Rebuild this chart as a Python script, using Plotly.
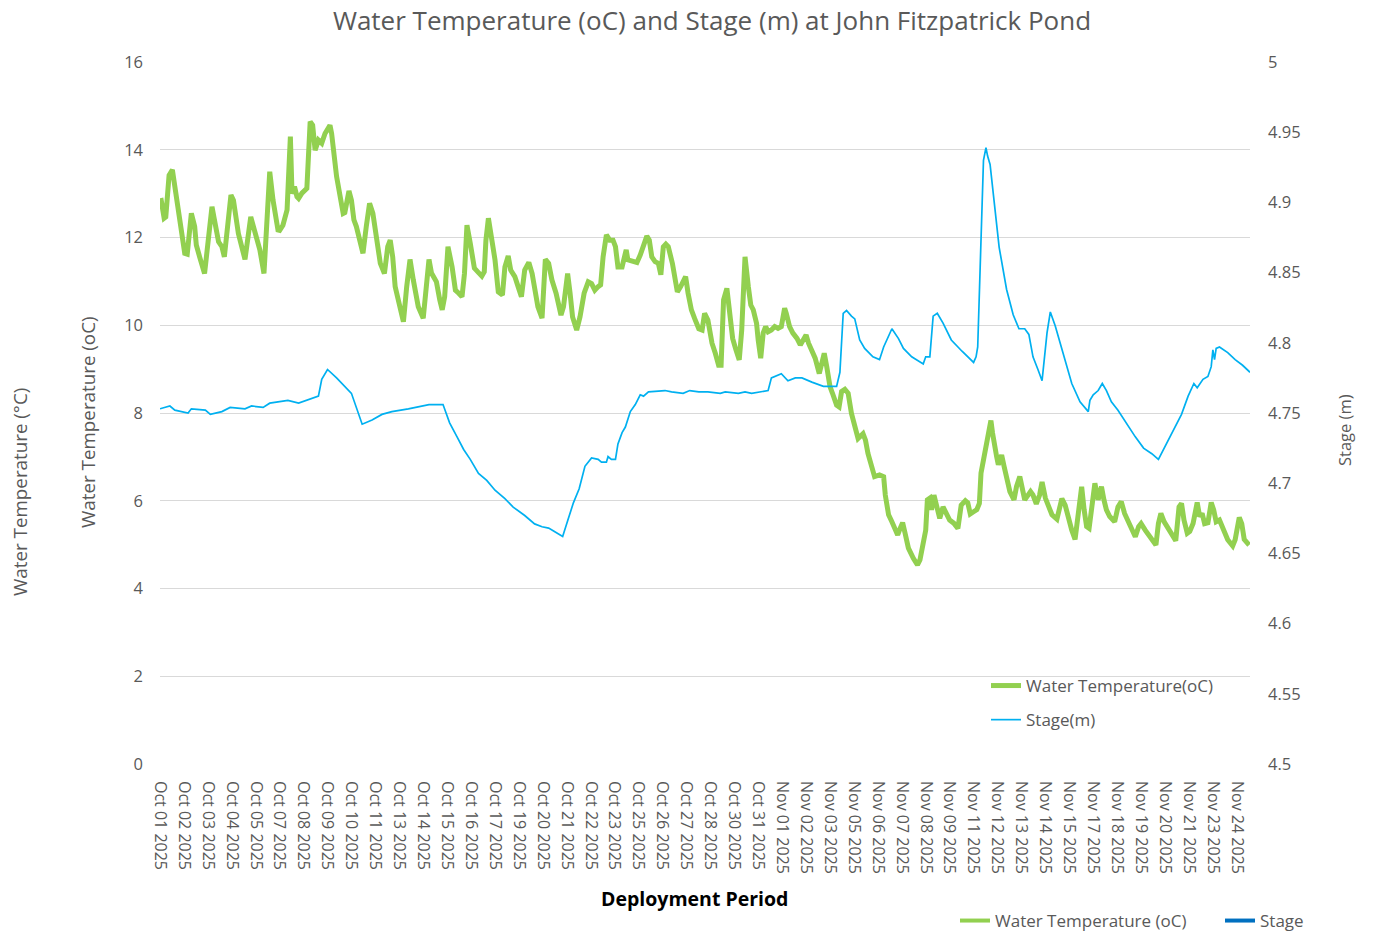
import pandas as pd
import plotly.graph_objects as go

# ---------------- data (hours since 2025-10-01 00:00) ----------------
start = pd.Timestamp("2025-10-01 00:00")

temp_hours = [1,5,7,11,15,22,30,33,38,42,44,48,54,63,67,71,75,78,86,89,95,103,110,115,121,126,133,137,143,145,149,154,158,160,163,166,168,172,178,182,185,188,192,196,200,206,208,214,218,222,224,229,232,235,238,246,250,254,258,263,267,272,276,279,282,285,289,292,295,299,303,307,313,319,323,326,329,335,339,342,345,349,354,358,362,366,369,372,376,378,381,386,390,393,395,398,402,406,410,415,418,422,425,430,434,438,442,447,451,454,458,463,467,471,475,480,483,486,489,494,497,500,505,509,514,519,523,527,531,534,537,541,545,549,552,555,560,563,565,567,572,578,582,586,590,593,596,600,604,607,610,613,616,621,624,627,631,634,637,640,644,648,653,657,660,664,669,673,677,680,683,687,691,694,698,702,705,709,713,716,719,723,725,728,731,734,737,741,745,749,753,757,759,763,767,772,776,780,783,786,790,794,799,802,805,808,812,815,820,823,826,830,834,838,842,846,852,855,858,862,866,872,877,879,883,887,891,894,897,900,903,907,913,918,921,925,928,930,933,935,938,941,945,949,953,957,962,967,971,976,979,982,986,990,993,995,998,1001,1004,1007,1009,1011,1014,1016,1020,1023,1026,1030,1035,1038,1042,1045,1048,1052,1055,1058,1062,1066,1069,1073,1077,1081,1087,1091,1093,1097,1101,1105,1109,1113,1117,1120,1123,1126,1129,1133,1137,1141,1144,1147,1151,1157,1161,1165,1169,1173,1178,1182,1186,1189,1194,1198,1202,1207,1210,1213,1217,1222,1226,1231,1235,1238,1241,1245,1248,1252,1257,1260,1263,1266,1270,1274,1277,1280,1284,1289,1294,1300,1303,1308,1311,1314,1317,1320]
temp_values = [12.90,12.44,12.47,13.42,13.54,12.70,11.64,11.62,12.55,12.25,11.83,11.56,11.18,12.70,12.32,11.90,11.79,11.56,12.97,12.85,12.09,11.50,12.47,12.09,11.72,11.18,13.50,12.85,12.17,12.16,12.28,12.63,14.30,13.00,13.16,12.93,12.89,13.01,13.12,14.64,14.56,13.99,14.22,14.15,14.37,14.56,14.37,13.39,13.01,12.55,12.57,13.06,12.85,12.40,12.25,11.64,12.25,12.78,12.55,11.94,11.41,11.18,11.79,11.94,11.56,10.88,10.58,10.42,10.08,10.88,11.50,11.03,10.42,10.16,11.11,11.50,11.19,10.99,10.58,10.35,10.65,11.79,11.33,10.80,10.73,10.65,11.18,12.28,11.87,11.56,11.30,11.20,11.12,11.22,11.94,12.44,12.02,11.49,10.76,10.69,11.33,11.58,11.26,11.11,10.88,10.65,11.26,11.43,11.18,10.88,10.42,10.16,11.50,11.41,11.03,10.73,10.50,10.23,10.42,11.18,10.73,10.19,9.89,10.19,10.73,10.99,10.95,10.80,10.88,10.92,11.56,12.06,11.94,11.94,11.79,11.33,11.33,11.56,11.72,11.49,11.45,11.43,11.60,11.79,12.03,11.94,11.56,11.45,11.41,11.15,11.79,11.85,11.79,11.41,11.11,10.76,10.88,11.03,11.11,10.73,10.35,10.15,9.92,9.89,10.27,10.12,9.59,9.36,9.09,9.09,10.58,10.84,10.19,9.70,9.44,9.21,9.89,11.56,10.88,10.46,10.35,10.04,9.66,9.25,9.82,9.97,9.85,9.89,9.97,9.93,9.97,10.39,10.27,9.97,9.82,9.70,9.55,9.66,9.78,9.59,9.40,9.25,8.90,9.13,9.36,9.06,8.60,8.45,8.18,8.14,8.49,8.54,8.45,7.99,7.69,7.42,7.53,7.38,7.08,6.81,6.55,6.59,6.55,6.13,5.68,5.52,5.37,5.22,5.37,5.50,5.26,4.92,4.69,4.54,4.65,5.03,5.33,6.02,6.06,5.79,6.13,5.90,5.60,5.86,5.71,5.56,5.49,5.37,5.90,6.00,5.95,5.70,5.75,5.80,5.94,6.63,6.93,7.27,7.54,7.83,7.54,7.23,7.00,6.82,7.04,6.78,6.47,6.21,6.02,6.32,6.55,6.25,6.02,6.13,6.21,6.13,5.93,6.13,6.43,6.06,5.83,5.68,5.58,5.86,6.05,5.90,5.56,5.33,5.12,5.64,6.32,5.79,5.41,5.37,5.79,6.40,6.02,6.32,6.02,5.79,5.64,5.52,5.86,5.98,5.71,5.56,5.33,5.18,5.41,5.48,5.33,5.22,5.11,4.99,5.48,5.71,5.52,5.37,5.22,5.09,5.86,5.94,5.56,5.26,5.30,5.48,5.96,5.64,5.71,5.48,5.50,5.96,5.79,5.52,5.56,5.33,5.11,4.97,5.11,5.62,5.48,5.12,5.07,4.99]

stage_hours = [0,12,18,34,38,55,61,75,85,103,111,125,133,155,168,184,192,196,203,214,224,232,245,257,269,281,301,326,343,351,360,368,376,386,396,406,418,428,442,454,463,471,477,488,495,501,508,515,523,531,535,541,543,547,552,555,560,564,570,576,582,586,592,612,620,634,642,653,664,679,685,701,709,717,737,741,753,761,770,778,790,804,820,824,828,832,838,842,848,854,864,872,877,882,887,895,901,911,919,925,928,933,937,942,949,959,972,980,986,989,991,994,998,1001,1003,1006,1011,1017,1026,1034,1041,1048,1053,1058,1064,1069,1075,1079,1085,1093,1105,1115,1125,1127,1131,1137,1142,1147,1153,1161,1172,1182,1192,1202,1210,1218,1228,1238,1246,1253,1257,1264,1270,1274,1276,1278,1280,1284,1294,1303,1312,1321]
stage_values = [4.753,4.755,4.752,4.750,4.753,4.752,4.749,4.751,4.754,4.753,4.755,4.754,4.757,4.759,4.757,4.760,4.762,4.774,4.781,4.775,4.769,4.764,4.742,4.745,4.749,4.751,4.753,4.756,4.756,4.743,4.733,4.724,4.717,4.707,4.702,4.695,4.689,4.683,4.677,4.671,4.669,4.668,4.666,4.662,4.675,4.686,4.696,4.712,4.718,4.717,4.715,4.715,4.719,4.717,4.717,4.728,4.736,4.740,4.751,4.756,4.763,4.762,4.765,4.766,4.765,4.764,4.766,4.765,4.765,4.764,4.765,4.764,4.765,4.764,4.766,4.775,4.778,4.773,4.775,4.775,4.772,4.769,4.769,4.779,4.821,4.823,4.819,4.817,4.802,4.796,4.790,4.788,4.797,4.804,4.810,4.803,4.796,4.790,4.787,4.785,4.790,4.790,4.819,4.821,4.814,4.802,4.794,4.789,4.786,4.790,4.797,4.854,4.930,4.939,4.933,4.927,4.902,4.868,4.838,4.820,4.810,4.810,4.806,4.790,4.781,4.773,4.807,4.822,4.812,4.795,4.771,4.758,4.751,4.759,4.763,4.766,4.771,4.766,4.758,4.752,4.742,4.733,4.725,4.721,4.717,4.726,4.738,4.749,4.762,4.771,4.768,4.774,4.776,4.783,4.795,4.788,4.796,4.797,4.793,4.788,4.784,4.779]

tick_count = 46          # one label every 29 hourly records
tick_step_hours = 29
end_hours = 1321

stage_ticks = [4.5, 4.55, 4.6, 4.65, 4.7, 4.75, 4.8, 4.85, 4.9, 4.95, 5.0]
stage_tick_labels = ["4.5", "4.55", "4.6", "4.65", "4.7", "4.75", "4.8", "4.85", "4.9", "4.95", "5"]

# ---------------- derived ----------------
temp_time = start + pd.to_timedelta(temp_hours, unit="h")
stage_time = start + pd.to_timedelta(stage_hours, unit="h")
tick_dates = pd.date_range(start, periods=tick_count, freq=f"{tick_step_hours}h")
tick_labels = [d.strftime("%b %d %Y") for d in tick_dates]
x_end = start + pd.Timedelta(hours=end_hours)

GREEN = "#92D050"
BLUE = "#00B0F0"
DARKBLUE = "#0070C0"
GREY = "#595959"
FONT = "Open Sans"

# plot area in figure pixels (page body adds an 8px offset)
PL, PR, PT, PB = 152, 1242, 54, 756
PW, PH = PR - PL, PB - PT


def px(xf):
    return (xf - PL) / PW


def py(yf):
    return (PB - yf) / PH


fig = go.Figure()
fig.add_trace(go.Scatter(
    x=temp_time, y=temp_values, mode="lines", name="Water Temperature(oC)",
    line=dict(color=GREEN, width=5), legend="legend", legendgroup="a"))
fig.add_trace(go.Scatter(
    x=stage_time, y=stage_values, mode="lines", name="Stage(m)", yaxis="y2",
    line=dict(color=BLUE, width=1.7), legend="legend", legendgroup="b"))
# outer legend entries
fig.add_trace(go.Scatter(
    x=[None], y=[None], mode="lines", name="Water Temperature (oC)",
    line=dict(color=GREEN, width=4), legend="legend2"))
fig.add_trace(go.Scatter(
    x=[None], y=[None], mode="lines", name="Stage",
    line=dict(color=DARKBLUE, width=4), legend="legend3"))

fig.update_layout(
    width=1380, height=932,
    margin=dict(l=PL, r=1380 - PR, t=PT, b=932 - PB, autoexpand=False),
    paper_bgcolor="white", plot_bgcolor="white",
    font=dict(family=FONT, color=GREY, size=16),
    title=dict(text="Water Temperature (oC) and Stage (m) at John Fitzpatrick Pond",
               x=704 / 1380, xanchor="center", xref="container",
               y=1 - 13 / 932, yanchor="middle", yref="container",
               font=dict(size=26, color=GREY, family=FONT)),
    xaxis=dict(type="date", range=[start, x_end], tickvals=tick_dates, ticktext=tick_labels,
               tickangle=90, showgrid=False, showline=False, zeroline=False, ticks="",
               tickfont=dict(size=16, color=GREY), ticklabelstandoff=16, automargin=False),
    yaxis=dict(range=[0, 16], dtick=2, showgrid=True, gridcolor="#D9D9D9", gridwidth=1,
               zeroline=False, showline=False, ticks="", tickfont=dict(size=16.5, color=GREY),
               ticklabelstandoff=16, automargin=False),
    yaxis2=dict(range=[4.5, 5.0], overlaying="y", side="right", tickvals=stage_ticks,
                ticktext=stage_tick_labels, showgrid=False, zeroline=False, showline=False,
                ticks="", tickfont=dict(size=16.5, color=GREY), ticklabelstandoff=17,
                automargin=False),
    legend=dict(x=px(978), xanchor="left", y=py(660), yanchor="top",
                bgcolor="rgba(0,0,0,0)", font=dict(size=17, color=GREY),
                traceorder="grouped", tracegroupgap=9),
    legend2=dict(orientation="h", x=px(947), xanchor="left", y=py(895), yanchor="top",
                 bgcolor="rgba(0,0,0,0)", font=dict(size=17, color=GREY)),
    legend3=dict(orientation="h", x=px(1212), xanchor="left", y=py(895), yanchor="top",
                 bgcolor="rgba(0,0,0,0)", font=dict(size=17, color=GREY)),
    showlegend=True,
)

fig.add_annotation(text="Water Temperature (oC)", xref="paper", yref="paper",
                   x=px(80), y=py(414), textangle=-90, showarrow=False,
                   font=dict(size=18.8, color=GREY, family=FONT), xanchor="center", yanchor="middle")
fig.add_annotation(text="Water Temperature (°C)", xref="paper", yref="paper",
                   x=px(12), y=py(484), textangle=-90, showarrow=False,
                   font=dict(size=18.8, color=GREY, family=FONT), xanchor="center", yanchor="middle")
fig.add_annotation(text="Stage (m)", xref="paper", yref="paper",
                   x=px(1336), y=py(422), textangle=-90, showarrow=False,
                   font=dict(size=16.5, color=GREY, family=FONT),
                   xanchor="center", yanchor="middle")
fig.add_annotation(text="<b>Deployment Period</b>", xref="paper", yref="paper",
                   x=px(686), y=py(890), showarrow=False,
                   font=dict(size=19.5, color="#000000", family=FONT),
                   xanchor="center", yanchor="middle")

fig.write_html("out.html")
